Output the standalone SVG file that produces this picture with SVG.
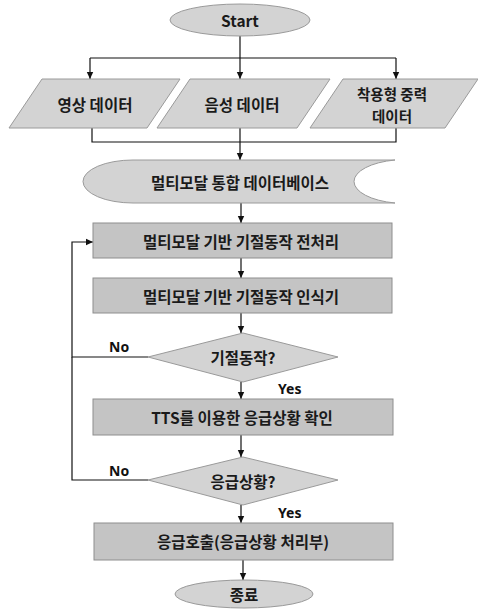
<svg xmlns="http://www.w3.org/2000/svg" width="478" height="610" viewBox="0 0 478 610">
<style>
  .lt { fill: #d3d3d3; stroke: #9a9a9a; stroke-width: 1; }
  .dk { fill: #c4c4c4; stroke: #8e8e8e; stroke-width: 1; }
  .t { font-family: "Noto Sans CJK KR", "Noto Sans", sans-serif; font-weight: bold; font-size: 15.5px; fill: #1a1a1a; text-anchor: middle; dominant-baseline: central; }
  .t2 { font-size: 14.5px; }
  .lbl { font-family: "Noto Sans", "Liberation Sans", sans-serif; font-weight: bold; font-size: 14px; fill: #111; }
  .c { fill: none; stroke: #111; stroke-width: 1.2; }
</style>
<defs>
  <marker id="ah" markerWidth="8" markerHeight="8" refX="7" refY="4" orient="auto" markerUnits="userSpaceOnUse">
    <path d="M0,0.8 L7,4 L0,7.2 Z" fill="#111"/>
  </marker>
</defs>
<rect width="478" height="610" fill="#ffffff"/>

<g id="connectors">
  <path class="c" d="M240,36 V58"/>
  <path class="c" d="M90,58 H396"/>
  <path class="c" d="M90,58 V79" marker-end="url(#ah)"/>
  <path class="c" d="M240,58 V79" marker-end="url(#ah)"/>
  <path class="c" d="M396,58 V79" marker-end="url(#ah)"/>
  <path class="c" d="M92,128 V142 H396 V128"/>
  <path class="c" d="M240,128 V142"/>
  <path class="c" d="M240,142 V160" marker-end="url(#ah)"/>
  <path class="c" d="M241,203 V223" marker-end="url(#ah)"/>
  <path class="c" d="M241,258 V278" marker-end="url(#ah)"/>
  <path class="c" d="M241,313 V333" marker-end="url(#ah)"/>
  <path class="c" d="M241,382 V399" marker-end="url(#ah)"/>
  <path class="c" d="M241,435 V457" marker-end="url(#ah)"/>
  <path class="c" d="M241,505 V523" marker-end="url(#ah)"/>
  <path class="c" d="M243,560 V580" marker-end="url(#ah)"/>
  <path class="c" d="M148,357 H72 V242 H93" marker-end="url(#ah)"/>
  <path class="c" d="M148,480 H72 V357"/>
  <text class="lbl" x="109" y="352">No</text>
  <text class="lbl" x="278" y="394">Yes</text>
  <text class="lbl" x="109" y="476">No</text>
  <text class="lbl" x="278" y="518">Yes</text>
</g>

<g id="start">
  <ellipse class="lt" cx="240" cy="20" rx="70" ry="16"/>
  <text class="t" x="240" y="20">Start</text>
</g>

<g id="video">
  <polygon class="lt" points="42,79 180,79 147,128 9,128"/>
  <text class="t" x="95" y="104">영상 데이터</text>
</g>

<g id="audio">
  <polygon class="lt" points="190,79 330,79 297,128 157,128"/>
  <text class="t" x="242" y="104">음성 데이터</text>
</g>

<g id="gravity">
  <polygon class="lt" points="343,79 478,79 445,128 310,128"/>
  <text class="t t2" x="392" y="93">착용형 중력</text>
  <text class="t t2" x="392" y="115">데이터</text>
</g>

<g id="database">
  <path class="lt" d="M133,160 H395 A52,22 0 0 0 395,203 H133 A50,21.5 0 0 1 133,160 Z"/>
  <text class="t" x="240" y="182">멀티모달 통합 데이터베이스</text>
</g>

<g id="preprocess">
  <rect class="dk" x="93" y="223" width="299" height="35"/>
  <text class="t" x="241" y="241">멀티모달 기반 기절동작 전처리</text>
</g>

<g id="recognizer">
  <rect class="dk" x="93" y="278" width="299" height="35"/>
  <text class="t" x="241" y="296">멀티모달 기반 기절동작 인식기</text>
</g>

<g id="decision1">
  <polygon class="lt" points="243,333 338,357 243,382 148,357"/>
  <text class="t" x="243" y="357">기절동작?</text>
</g>

<g id="tts">
  <rect class="dk" x="93" y="399" width="300" height="36"/>
  <text class="t" x="242" y="417">TTS를 이용한 응급상황 확인</text>
</g>

<g id="decision2">
  <polygon class="lt" points="243,457 338,480 243,505 148,480"/>
  <text class="t" x="243" y="481">응급상황?</text>
</g>

<g id="emergency">
  <rect class="dk" x="94" y="523" width="299" height="37"/>
  <text class="t" x="243" y="541">응급호출(응급상황 처리부)</text>
</g>

<g id="end">
  <ellipse class="lt" cx="244" cy="594" rx="69" ry="14"/>
  <text class="t" x="244" y="594">종료</text>
</g>
</svg>
